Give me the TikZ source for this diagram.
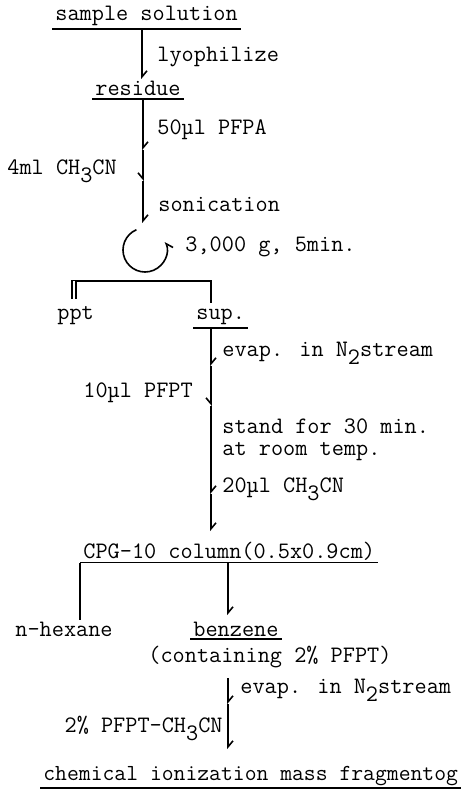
\documentclass[tikz,border=0pt]{standalone}
\usepackage{fontspec}
\usetikzlibrary{arrows.meta}
\newcommand{\lowr}[1]{\raisebox{-4pt}{#1}}
\tikzset{
  lbl/.style={anchor=base west,inner sep=0pt},
  lblr/.style={anchor=base east,inner sep=0pt},
  ulbl/.style={anchor=base west,inner xsep=1.5pt,inner ysep=1.2pt},
  flow/.style={line width=0.8pt},
  uline/.style={line width=0.7pt},
  barbR/.style={flow,-{Straight Barb[left,length=3pt,width=5pt]}},
  barbL/.style={flow,-{Straight Barb[right,length=3pt,width=5pt]}},
}

\begin{document}
\begin{tikzpicture}[x=0.5pt,y=-0.5pt,
  every node/.style={font=\ttfamily\fontsize{11.8}{9.5}\selectfont\addfontfeature{FakeBold=1.5}}]
  \useasboundingbox (0,0) rectangle (465,795);
  % texts
  \node[ulbl] (ss) at (52,21) {sample solution};
  \node[lbl] (lyo) at (157,62) {lyophilize};
  \node[ulbl] (res) at (92,96) {residue};
  \node[lbl] (pfpa) at (157,135) {50µl PFPA};
  \node[lbl] (acn) at (7,175) {4ml CH\lowr{3}CN};
  \node[lbl] (son) at (158,212) {sonication};
  \node[lbl] (rcf) at (185,252) {3,000 g, 5min.};
  \node[lbl] (ppt) at (57,320) {ppt};
  \node[ulbl] (sup) at (193,320) {sup.};
  \node[lbl] (evap1) at (222,357) {evap. in N\lowr{2}stream};
  \node[lbl] (pfpt) at (83,397) {10µl PFPT};
  \node[lbl,align=left] (stand) at (222,455) {stand for 30 min.\\[1.5pt]at room temp.};
  \node[lbl] (acn2) at (222,492) {20µl CH\lowr{3}CN};
  \node[ulbl] (cpg) at (80,558) {CPG-10 column(0.5x0.9cm)};
  \node[lbl] (hex) at (15,636) {n-hexane};
  \node[ulbl] (benz) at (190,636) {benzene};
  \node[lbl] (cont) at (148,662) {(containing 2\% PFPT)};
  \node[lbl] (evap2) at (240,693) {evap. in N\lowr{2}stream};
  \node[lblr] (pfac) at (223,732) {2\% PFPT-CH\lowr{3}CN};
  \node[ulbl,font=\ttfamily\fontsize{11.5}{9.5}\selectfont\addfontfeature{FakeBold=1.5}]
    (chem) at (40,780) {chemical ionization mass fragmentog};
  \foreach \n in {ss,res,sup,cpg,benz,chem}
    \draw[uline] (\n.south west) -- (\n.south east);
  % first steps
  \coordinate (b1) at (142,79);
  \draw[barbR] (ss.south -| b1) -- (b1);
  \coordinate (b2) at (143,150);
  \coordinate (b3) at (143,181);
  \coordinate (b4) at (143,223);
  \draw[barbR] (res.south -| b2) -- (b2);
  \draw[barbL] (b2) -- (b3);
  \draw[barbR] (b3) -- (b4);
  % centrifuge
  \coordinate (cen) at (145,250);
  \draw[flow,-{Straight Barb[right,length=3pt,width=5pt]}] (cen) ++(113:11pt)
    arc[start angle=113,end angle=382,radius=11pt];
  \coordinate (k1) at (74,281);
  \coordinate (k2) at (211,281);
  \draw[flow] (71,281) -- (k2) -- ++(0,22);
  \draw[flow,double,double distance=1pt] (k1) -- ++(0,18);
  % supernatant
  \coordinate (b5) at (211,366);
  \coordinate (b6) at (211,406);
  \coordinate (b7) at (211,494);
  \coordinate (b8) at (211,531);
  \draw[barbR] (sup.south -| b5) -- (b5);
  \draw[barbL] (b5) -- (b6);
  \draw[barbR] (b6) -- (b7);
  \draw[barbR] (b7) -- (b8);
  % column
  \coordinate (h1) at (80,620);
  \coordinate (b9) at (228,615);
  \draw[flow] (cpg.south -| h1) -- (h1);
  \draw[barbR] (cpg.south -| b9) -- (b9);
  \coordinate (t4) at (228,678);
  \coordinate (b10) at (228,704);
  \coordinate (b11) at (228,749);
  \draw[barbR] (t4) -- (b10);
  \draw[barbR] (b10) -- (b11);
\end{tikzpicture}
\end{document}
